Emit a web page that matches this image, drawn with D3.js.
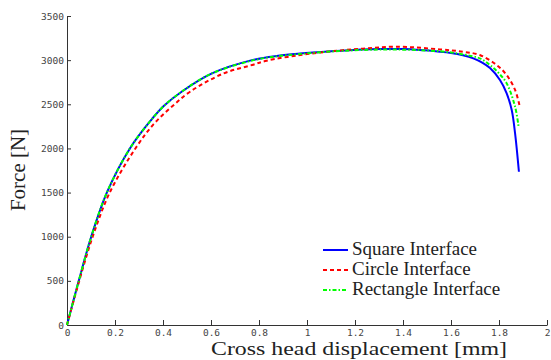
<!DOCTYPE html>
<html>
<head>
<meta charset="utf-8">
<script src="https://cdn.jsdelivr.net/npm/d3@7"></script>
<style>
  body { margin: 0; background: #fff; }
  .tick text { font-family: "DejaVu Sans Mono", monospace; font-size: 9.5px; fill: #444; }
  .axis path, .axis line { stroke: #333; }
  .lbl { font-family: "Liberation Serif", "Times New Roman", serif; fill: #222; }
</style>
</head>
<body>
<svg id="chart" width="551" height="360"></svg>
<script>
// Square interface (blue, solid)
const squareX = [0, 0.049, 0.101, 0.166, 0.262, 0.347, 0.403, 0.479, 0.604, 0.771, 0.88, 0.971, 1.10, 1.23, 1.304, 1.40, 1.554, 1.60, 1.65, 1.693, 1.73, 1.7625, 1.804, 1.832, 1.853, 1.867, 1.883];
const squareF = [0, 500, 1000, 1500, 2000, 2310, 2480, 2645, 2850, 3000, 3050, 3075, 3100, 3120, 3125, 3125, 3096, 3082, 3055, 3020, 2972, 2910, 2775, 2624, 2435, 2171, 1736];

// Circle interface (red, dashed)
const circleX = [0, 0.051, 0.107, 0.178, 0.285, 0.361, 0.4375, 0.514, 0.653, 0.771, 0.832, 0.971, 1.10, 1.23, 1.374, 1.554, 1.65, 1.72, 1.79, 1.832, 1.867, 1.885];
const circleF = [0, 500, 1000, 1500, 2000, 2275, 2475, 2645, 2850, 2945, 2994, 3058, 3100, 3130, 3152, 3122, 3095, 3058, 2945, 2831, 2662, 2492];

// Rectangle interface (green, dash-dot)
const rectX = [0, 0.049, 0.101, 0.166, 0.262, 0.347, 0.403, 0.479, 0.604, 0.771, 0.88, 0.971, 1.10, 1.23, 1.374, 1.554, 1.65, 1.72, 1.7625, 1.80, 1.832, 1.867, 1.882];
const rectF = [0, 500, 1000, 1500, 2000, 2310, 2480, 2645, 2850, 2995, 3045, 3070, 3098, 3115, 3120, 3100, 3065, 3020, 2945, 2850, 2737, 2473, 2239];

const xTicks = [0, 0.2, 0.4, 0.6, 0.8, 1, 1.2, 1.4, 1.6, 1.8, 2];
const yTicks = [0, 500, 1000, 1500, 2000, 2500, 3000, 3500];

const series = [
  { name: 'Square Interface', xs: squareX, ys: squareF, color: '#0000ff', dash: null },
  { name: 'Circle Interface', xs: circleX, ys: circleF, color: '#ff0000', dash: '4,3' },
  { name: 'Rectangle Interface', xs: rectX, ys: rectF, color: '#00ff00', dash: '4,2,1.5,2' }
];

const svg = d3.select('#chart');
const x = d3.scaleLinear().domain([0, 2]).range([67, 547]);
const y = d3.scaleLinear().domain([0, 3500]).range([325, 16]);

// axes, ticks pointing inward like matlab
svg.append('g')
  .attr('class', 'axis')
  .attr('transform', 'translate(0,325)')
  .call(d3.axisBottom(x).tickValues(xTicks).tickSize(-5).tickSizeOuter(0)
    .tickFormat(d => d === 0 ? '0' : d3.format('~g')(d)))
  .call(g => g.selectAll('.tick text').attr('dy', '0.71em').attr('y', 4));

svg.append('g')
  .attr('class', 'axis')
  .attr('transform', 'translate(67,0)')
  .call(d3.axisLeft(y).tickValues(yTicks).tickSize(-4).tickSizeOuter(0).tickPadding(3).tickFormat(d3.format('d')));

const line = d3.line().curve(d3.curveCatmullRom.alpha(0.5));

series.forEach(s => {
  const pts = s.xs.map((v, i) => [x(v), y(s.ys[i])]);
  svg.append('path')
    .attr('d', line(pts))
    .attr('fill', 'none')
    .attr('stroke', s.color)
    .attr('stroke-width', 2)
    .attr('stroke-dasharray', s.dash);
});

// axis labels
svg.append('text').attr('class', 'lbl')
  .attr('x', 359).attr('y', 355)
  .attr('text-anchor', 'middle')
  .attr('font-size', 19)
  .attr('textLength', 296)
  .attr('lengthAdjust', 'spacingAndGlyphs')
  .text('Cross head displacement [mm]');

svg.append('text').attr('class', 'lbl')
  .attr('transform', 'translate(25,170) rotate(-90)')
  .attr('text-anchor', 'middle')
  .attr('font-size', 21)
  .text('Force [N]');

// legend
const legend = svg.append('g').attr('transform', 'translate(323,250)');
series.forEach((s, i) => {
  const row = legend.append('g').attr('transform', `translate(0,${i * 20})`);
  row.append('line')
    .attr('x1', 0).attr('x2', 25).attr('y1', 0).attr('y2', 0)
    .attr('stroke', s.color).attr('stroke-width', 2)
    .attr('stroke-dasharray', s.dash);
  row.append('text').attr('class', 'lbl')
    .attr('x', 29).attr('y', 5)
    .attr('font-size', 19)
    .text(s.name);
});
</script>
</body>
</html>
